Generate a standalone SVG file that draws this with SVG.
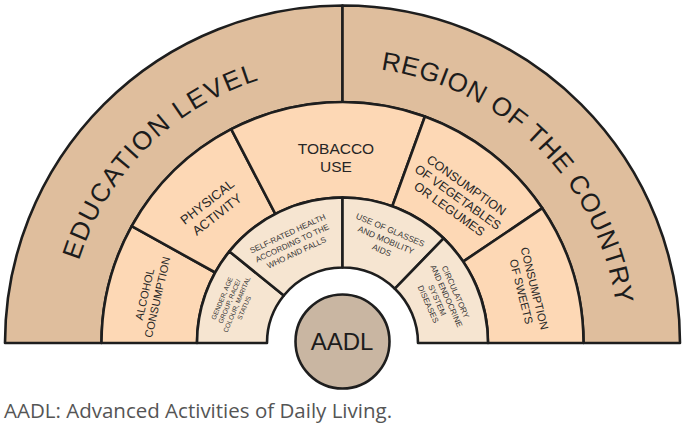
<svg xmlns="http://www.w3.org/2000/svg" width="685" height="426" viewBox="0 0 685 426">
<style>
.sec{stroke:#1e1e1e;stroke-width:2.6;stroke-linejoin:round}
.outer{fill:#dfbe9d}
.mid{fill:#fdd8b5}
.inner{fill:#f6e5d1}
.t{font-family:"Liberation Sans",Arial,sans-serif;text-anchor:middle}
.big{font-size:26px;fill:#1c1c1c}
.m{fill:#262626}
.s{fill:#363636}
</style>
<defs>
<path id="arcText" d="M 66.5,343 A 276 276 0 0 1 618.5,343"/>
</defs>
<rect width="685" height="426" fill="#ffffff"/>

<g id="education-level">
<path class="sec outer" d="M 5,343 A 337.5 337.5 0 0 1 342.5,5.5 L 342.5,102 A 241 241 0 0 0 101.5,343 Z"/>
<text class="t big" letter-spacing="1.8"><textPath href="#arcText" startOffset="25%">EDUCATION LEVEL</textPath></text>
</g>
<g id="region-of-the-country">
<path class="sec outer" d="M 342.5,5.5 A 337.5 337.5 0 0 1 680,343 L 583.5,343 A 241 241 0 0 0 342.5,102 Z"/>
<text class="t big" letter-spacing="0.8"><textPath href="#arcText" startOffset="75%">REGION OF THE COUNTRY</textPath></text>
</g>

<g id="alcohol-consumption">
<path class="sec mid" d="M 101.5,343 A 241 241 0 0 1 131.7,226.2 L 215.2,272.5 A 145.5 145.5 0 0 0 197,343 Z"/>
<text class="t m" font-size="11" transform="translate(151,295.7) rotate(-77)"><tspan x="0" y="-2.6">ALCOHOL</tspan><tspan x="0" y="10.4">CONSUMPTION</tspan></text>
</g>
<g id="physical-activity">
<path class="sec mid" d="M 131.7,226.2 A 241 241 0 0 1 231.2,129.2 L 275.3,213.9 A 145.5 145.5 0 0 0 215.2,272.5 Z"/>
<text class="t m" font-size="13" transform="translate(212,208) rotate(-38)"><tspan x="0" y="-3.3">PHYSICAL</tspan><tspan x="0" y="12.7">ACTIVITY</tspan></text>
</g>
<g id="tobacco-use">
<path class="sec mid" d="M 231.2,129.2 A 241 241 0 0 1 424.9,116.5 L 392.3,206.3 A 145.5 145.5 0 0 0 275.3,213.9 Z"/>
<text class="t m" font-size="15.5"><tspan x="336" y="154">TOBACCO</tspan><tspan x="336" y="172">USE</tspan></text>
</g>
<g id="consumption-vegetables">
<path class="sec mid" d="M 424.9,116.5 A 241 241 0 0 1 542.3,208.2 L 463.1,261.6 A 145.5 145.5 0 0 0 392.3,206.3 Z"/>
<text class="t m" font-size="12.5" transform="translate(458,197) rotate(35.5)"><tspan x="0" y="-10.1">CONSUMPTION</tspan><tspan x="0" y="4.5">OF VEGETABLES</tspan><tspan x="0" y="19.1">OR LEGUMES</tspan></text>
</g>
<g id="consumption-sweets">
<path class="sec mid" d="M 542.3,208.2 A 241 241 0 0 1 583.5,343 L 488,343 A 145.5 145.5 0 0 0 463.1,261.6 Z"/>
<text class="t m" font-size="11.3" transform="translate(528,290) rotate(76)"><tspan x="0" y="-2.8">CONSUMPTION</tspan><tspan x="0" y="10.9">OF SWEETS</tspan></text>
</g>

<g id="gender-age">
<path class="sec inner" d="M 197,343 A 145.5 145.5 0 0 1 229.4,251.4 L 283.8,295.5 A 75.5 75.5 0 0 0 267,343 Z"/>
<text class="t s" font-size="6.6" transform="translate(233,303) rotate(-67)"><tspan x="0" y="-9.6">GENDER, AGE</tspan><tspan x="0" y="-1.6">GROUP, RACE/</tspan><tspan x="0" y="6.4">COLOUR, MARITAL</tspan><tspan x="0" y="14.4">STATUS</tspan></text>
</g>
<g id="self-rated-health">
<path class="sec inner" d="M 229.4,251.4 A 145.5 145.5 0 0 1 342.5,197.5 L 342.5,267.5 A 75.5 75.5 0 0 0 283.8,295.5 Z"/>
<text class="t s" font-size="8" transform="translate(292,243) rotate(-25)"><tspan x="0" y="-7.6">SELF-RATED HEALTH</tspan><tspan x="0" y="2.9">ACCORDING TO THE</tspan><tspan x="0" y="13.4">WHO AND FALLS</tspan></text>
</g>
<g id="glasses-mobility">
<path class="sec inner" d="M 342.5,197.5 A 145.5 145.5 0 0 1 443.6,238.3 L 394.9,288.7 A 75.5 75.5 0 0 0 342.5,267.5 Z"/>
<text class="t s" font-size="8.5" transform="translate(386,240) rotate(23)"><tspan x="0" y="-8">USE OF GLASSES</tspan><tspan x="0" y="3">AND MOBILITY</tspan><tspan x="0" y="14">AIDS</tspan></text>
</g>
<g id="circulatory-endocrine">
<path class="sec inner" d="M 443.6,238.3 A 145.5 145.5 0 0 1 488,343 L 418,343 A 75.5 75.5 0 0 0 394.9,288.7 Z"/>
<text class="t s" font-size="8" transform="translate(442,298) rotate(66)"><tspan x="0" y="-12.1">CIRCULATORY</tspan><tspan x="0" y="-2.1">AND ENDOCRINE</tspan><tspan x="0" y="7.9">SYSTEM</tspan><tspan x="0" y="17.9">DISEASES</tspan></text>
</g>

<g id="aadl">
<circle cx="342.5" cy="341.5" r="47" fill="#c9b6a2" stroke="#1e1e1e" stroke-width="2.6"/>
<text class="t" font-size="24" fill="#1c1c1c" x="342" y="350">AADL</text>
</g>

<text x="4" y="418" font-family="'Open Sans','Liberation Sans',sans-serif" font-size="20.5" fill="#555555">AADL: Advanced Activities of Daily Living.</text>
</svg>
